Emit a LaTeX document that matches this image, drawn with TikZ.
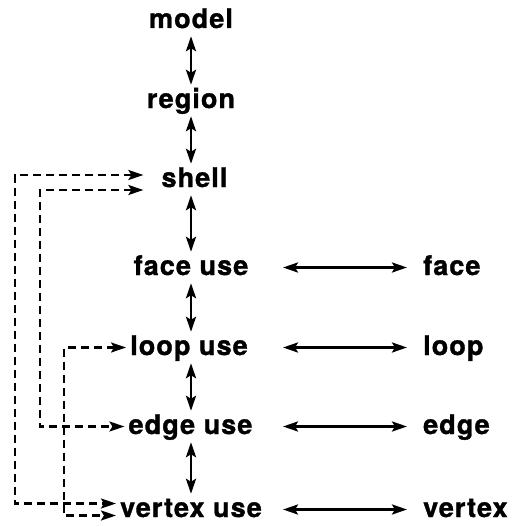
\documentclass[tikz,border=0pt]{standalone}
\usepackage{fontspec}
\newfontfamily\labelfont{TeX Gyre Heros}[LetterSpace=4,FakeBold=1.2]
\usepackage{tikz}
\usetikzlibrary{arrows.meta}

\begin{document}
\begin{tikzpicture}[x=1pt,y=1pt,yscale=-1,xscale=1,
	ent/.style={font=\labelfont\bfseries\fontsize{27}{30}\selectfont, text height=19pt, text depth=4pt, inner sep=4pt},
	rel/.style={{Stealth[length=15pt,width=10pt,inset=3pt]}-{Stealth[length=15pt,width=10pt,inset=3pt]}, line width=2.6pt},
	ptr/.style={{Stealth[length=15pt,width=10pt,inset=3pt]}-{Stealth[length=15pt,width=10pt,inset=3pt]}, line width=2.2pt, dash pattern={on 8pt off 5pt}}]
	\useasboundingbox (0,0) rectangle (513,527);
	
	% Text Node
	\node [ent,anchor=base] (model) at (191,28) {model};
	% Text Node
	\node [ent,anchor=base] (region) at (191,108) {region};
	% Text Node
	\node [ent,anchor=base] (shell) at (194.5,187) {shell};
	% Text Node
	\node [ent,anchor=base] (faceuse) at (191,275) {face use};
	% Text Node
	\node [ent,anchor=base] (loopuse) at (189,355) {loop use};
	% Text Node
	\node [ent,anchor=base] (edgeuse) at (190.5,434) {edge use};
	% Text Node
	\node [ent,anchor=base] (vertexuse) at (191,517) {vertex use};
	
	% Text Node
	\node [ent,anchor=base west] (face) at (419,275) {face};
	% Text Node
	\node [ent,anchor=base west] (loop) at (419,355) {loop};
	% Text Node
	\node [ent,anchor=base west] (edge) at (419,434) {edge};
	% Text Node
	\node [ent,anchor=base west] (vertex) at (419,517) {vertex};
	
	%Straight Lines
	\draw [rel] (model) -- (region);
	\draw [rel] (region) -- (region |- shell.north);
	\draw [rel] (shell.south -| faceuse) -- (faceuse);
	\draw [rel] (faceuse) -- (faceuse |- loopuse.north);
	\draw [rel] (faceuse |- loopuse.south) -- (faceuse |- edgeuse.north);
	\draw [rel] (faceuse |- edgeuse.south) -- (faceuse |- vertexuse.north);
	
	%Straight Lines
	\coordinate (lx) at (283,0);
	\coordinate (rx) at (407,0);
	\draw [rel] (faceuse -| lx) -- (face -| rx);
	\draw [rel] (loopuse -| lx) -- (loop -| rx);
	\draw [rel] (edgeuse -| lx) -- (edge -| rx);
	\draw [rel] (vertexuse -| lx) -- (vertex -| rx);
	
	%Dashed Lines
	\coordinate (c1) at (15,175);
	\coordinate (c2) at (40,190);
	\coordinate (c3) at (64,347.5);
	\draw [ptr,shorten <=14pt] (shell.west |- c1) -- (c1) |- ([yshift=-6pt]vertexuse.west);
	\draw [ptr,shorten <=14pt] (shell.west |- c2) -- (c2) |- (edgeuse.west);
	\draw [ptr] (loopuse.west) -- (c3) |- ([yshift=6pt]vertexuse.west);
	
\end{tikzpicture}
\end{document}
